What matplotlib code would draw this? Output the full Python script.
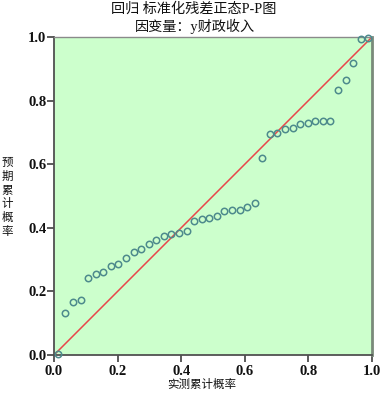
import matplotlib
matplotlib.use("Agg")
import matplotlib.pyplot as plt
from matplotlib import font_manager

plt.rcParams['font.family'] = ['Liberation Serif', 'Noto Sans CJK SC', 'DejaVu Sans']

title_lines = ["回归 标准化残差正态P-P图", "因变量：y财政收入"]
xlabel = "实测累计概率"
ylabel = "预期累计概率"
ticks = [0.0, 0.2, 0.4, 0.6, 0.8, 1.0]
tick_labels = ["0.0", "0.2", "0.4", "0.6", "0.8", "1.0"]

observed = [(i - 0.5) / 42 for i in range(1, 43)]
expected = [0.002, 0.133, 0.167, 0.174, 0.243, 0.256, 0.261, 0.279, 0.285, 0.304,
            0.323, 0.334, 0.349, 0.362, 0.375, 0.381, 0.383, 0.390, 0.420, 0.427,
            0.432, 0.438, 0.454, 0.455, 0.456, 0.466, 0.478, 0.619, 0.696, 0.697,
            0.712, 0.714, 0.727, 0.729, 0.735, 0.736, 0.737, 0.833, 0.864, 0.917,
            0.994, 0.996]
ref_line = [0.0, 1.0]

fig = plt.figure(figsize=(3.8, 3.93), dpi=100)
ax = fig.add_axes([54/380, 38/393, 318/380, 318/393])
ax.set_facecolor('#ccffcc')
ax.plot(ref_line, ref_line, color='#e8474a', lw=1.1, zorder=2)
ax.plot(observed, expected, linestyle='none', marker='o', markersize=4.6,
        markerfacecolor='none', markeredgecolor='#4d8a8c', markeredgewidth=1.1,
        zorder=3, clip_on=False)
ax.set_xlim(0, 1)
ax.set_ylim(0, 1)

fp = font_manager.FontProperties(family='Liberation Serif', size=10.5, weight='bold')
ax.set_xticks(ticks)
ax.set_xticklabels(tick_labels)
ax.set_yticks(ticks)
ax.set_yticklabels(tick_labels)
for lab in ax.get_xticklabels() + ax.get_yticklabels():
    lab.set_fontproperties(fp)
    lab.set_color('#111111')
ax.tick_params(axis='both', direction='out', length=5, width=1.2, colors='#404040',
               labelcolor='#111111')
ax.tick_params(axis='x', pad=2)
ax.tick_params(axis='y', pad=0.5)
for s in ['left', 'bottom']:
    ax.spines[s].set_color('#505050')
    ax.spines[s].set_linewidth(1.3)
ax.spines['right'].set_color('#7a8a7a')
ax.spines['right'].set_linewidth(2)
ax.spines['top'].set_color('#8a8a8a')
ax.spines['top'].set_linewidth(1)

cjk = ['Liberation Serif', 'Noto Sans CJK SC']
fig.text(194/380, 1 - 9/393, title_lines[0], ha='center', va='center', fontsize=10.2,
         family=cjk, color='#111111')
fig.text(195/380, 1 - 26.5/393, title_lines[1], ha='center', va='center', fontsize=10.2,
         family=cjk, color='#111111')
fig.text(202/380, 1 - 385/393, xlabel, ha='center', va='center', fontsize=8.3,
         family=cjk, color='#111111')
fig.text(7/380, 1 - 197.5/393, "\n".join(ylabel), ha='center', va='center', fontsize=8.3,
         family=cjk, linespacing=1.2, color='#111111')

fig.savefig('out.png', dpi=100)
